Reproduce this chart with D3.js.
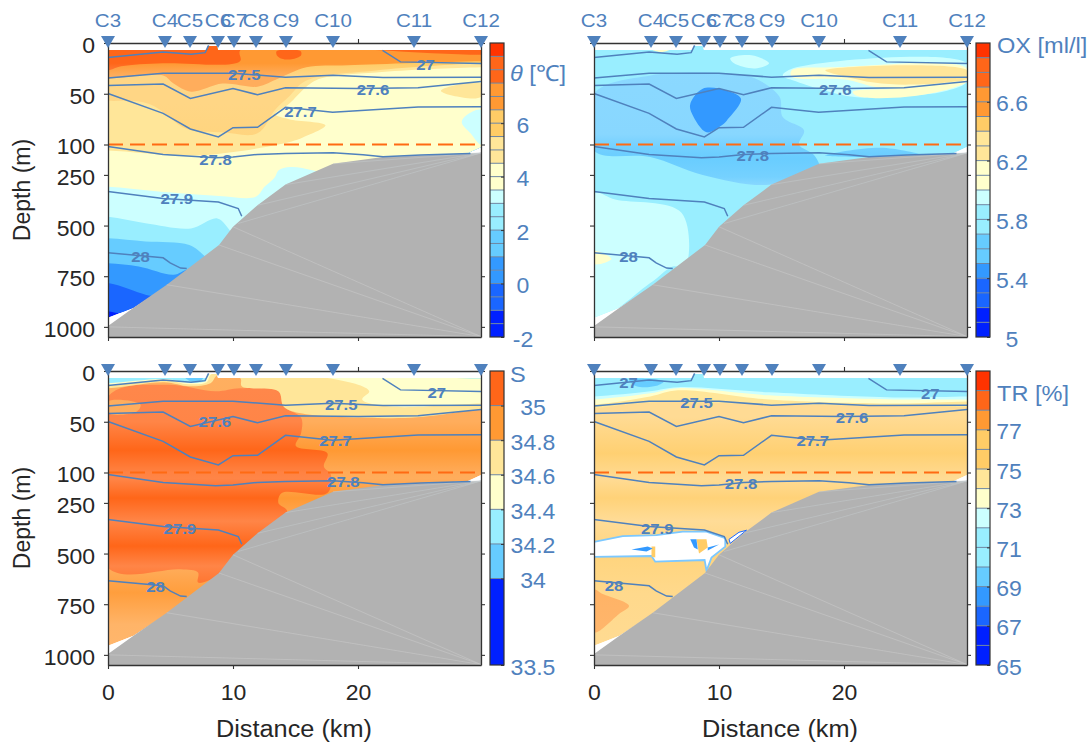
<!DOCTYPE html>
<html>
<head>
<meta charset="utf-8">
<script src="https://d3js.org/d3.v7.min.js"></script>
<style>
  html, body { margin: 0; background: #fff; }
  svg { display: block; font-family: "Liberation Sans", Arial, sans-serif; }
  svg text { font-family: "Liberation Sans", Arial, sans-serif; }
</style>
</head>
<body>
<div id="chart"></div>
<script>
// stations along the section
var stationNames = ['C3','C4','C5','C6','C7','C8','C9','C10','C11','C12'];
var stationKm = [0,4.56,6.56,8.8,10.08,11.84,14.24,18,24.48,29.84];

var depthTicks = [0,50,100,250,500,750,1000];
var distTicks = [0,10,20];

var seaEdge = [[0,7],[7.9,7],[8,3],[8.7,3],[8.8,7],[29.84,7],[29.84,112],[28.8,142],[22,170],[18,205],[14.2,310],[11.96,410],[10,520],[8.88,610],[4.7,800],[2.04,906],[0,955]];
var bathy = [[0,996],[2.04,906],[4.7,792],[8.88,596],[10,506],[11.96,400],[14.2,298],[18,195],[22,162],[29.84,142]];
// triangulation seams on the seabed
var seamsUp = [[10.4,490],[11.96,400],[14.2,298],[18,195],[22,162]];
var seamsDown = [[0,1000],[4.7,792],[8.88,596],[10,506]];

// density contours
var iso27a = [[0,14.4],[4.41,8.8],[6.65,11.1],[7.77,9.5],[8.05,2.3]];
var iso27b = [[21.96,7.2],[23.4,18.6],[29.84,20.3]];
var iso275 = [[0,34.6],[4.41,29.7],[10,29.7],[14.2,33.7],[18,31.7],[22,34],[29.84,33.7]];
var iso276 = [[0,41.8],[4.41,40.5],[6.59,54.6],[10,44.8],[11.96,51],[14.2,44.1],[20.03,44.8],[24.8,44.1],[29.84,37.9]];
var iso277 = [[0,49.7],[4.41,69.3],[6.59,84.7],[8.83,92.5],[10,83.4],[11.96,83],[14.2,63.4],[17.97,68.3],[24.81,63],[29.84,62.8]];
var iso278 = [[0,110],[4.41,149],[8.6,165],[10,162],[11.96,149],[14.2,144],[18,141],[20.4,151],[22,160],[25,152],[29,145]];
var iso279 = [[0,332],[4.41,367],[8.83,384],[10.42,416],[10.7,454]];
var iso28 = [[0,634],[4.41,659],[4.97,684],[5.81,710],[6.3,712]];
var isoLines = [iso27a,iso27b,iso275,iso276,iso277,iso278,iso279,iso28];

// colour bar edges
var thetaEdges = [-1,0,1,2,3,3.5,4.5,5.5,6.5,7.5,8.5];
var oxEdges = [5.2,5.4,5.5,5.7,5.9,6,6.2,6.4,6.5,6.7,6.9];
var salEdges = [34,34.2,34.4,34.6,34.8,35];
var trEdges = [67,68,69,70,72,73,74,75,77,78,79];
var palette = ['#0020ff','#1a66ff','#3399ff','#66ccff','#99eeff','#ccffff','#ffffcc','#ffe699','#ffcc66','#ff9933','#ff6619','#ff3300'];
var salPalette = ['#0020ff','#66ccff','#99eeff','#ffffcc','#ffe699','#ff9933','#ff6619'];

var thetaSteps = [-2,-1.5,-1,-0.5,0,0.5,1,1.5,2,2.5,3,3.5,4,4.5,5,5.5,6,6.5,7,7.5,8,8.5,9];
var oxSteps = [5,5.1,5.2,5.3,5.4,5.5,5.6,5.7,5.8,5.9,6,6.1,6.2,6.3,6.4,6.5,6.6,6.7,6.8,6.9,7];
var salSteps = [33.5,34,34.2,34.4,34.6,34.8,35,35.2];
var trSteps = [65,66,67,68,69,70,71,72,73,74,75,76,77,78,79,80];

var thetaTicks = [-2,0,2,4,6];
var oxTicks = [5,5.4,5.8,6.2,6.6];
var salTicks = [33.5,34,34.2,34.4,34.6,34.8,35];
var trTicks = [65,67,69,71,73,75,77];

// filled areas: value, outline, 1 = outline runs up to the surface
var thetaAreas = [
  [-1.5, seaEdge],
  [-0.5, [[0,923],[0.8,931],[2.46,915],[6,915]], 1],
  [0.5, [[0,784],[3,841],[3.86,850],[6,860]], 1],
  [1.5, [[0,686],[2.46,702],[5.25,743],[6.37,718],[7,740]], 1],
  [2.5, [[0,563],[3,579],[6.5,596],[7.77,653],[8.5,700]], 1],
  [3.2, [[0,457],[3,489],[6.65,514],[8.75,465],[9.86,530],[10.5,560]], 1],
  [4, [[0,309],[3.86,331],[8.88,354],[11.82,358],[12.52,309],[13.36,260],[13.63,228],[14.6,211],[16.43,228],[20,300]], 1],
  [5, [[0,129],[6.93,154],[13.63,100],[15.59,93],[17.4,81],[14.47,75],[13.36,70],[14.47,60],[15.87,43],[17,35],[21.46,29],[29.84,24]], 1],
  [6, [[0,57],[3.3,60],[6.37,85],[9.16,88],[11.96,89],[13.36,66],[14.47,53],[15.87,37],[21.46,27],[29.84,20]], 1],
  [7, [[0,35],[4.41,32],[5.25,40],[6.65,48],[9.16,40],[11.96,43],[13.63,35],[15.87,24],[19.22,22],[29.84,18]], 1],
  [8, [[0,27],[1.06,23],[4.41,20],[10.56,18],[10.6,7]], 1],
  [3.2, [[29.84,66],[28.7,71],[28.3,78],[29,89],[29.84,100]]],
  [5, [[26.63,47],[27.6,42],[29.84,40],[29.84,53],[27.6,52]]],
  [8, [[13.5,8],[15.4,8],[15.45,12],[14.7,16],[13.9,15.5],[13.5,12]]]
];
var oxAreas = [
  [5.8, seaEdge],
  [5.95, [[0,342],[1.7,372],[7,437],[7.3,702],[6.3,702],[4.5,784],[0,956]]],
  [5.6, [[0,50],[4.5,32],[10.65,30],[12.9,35],[14.84,53],[15.1,73],[16.8,86],[16.4,100],[17.6,152],[18,220],[14,299],[8.7,250],[4.5,162],[0,129]]],
  [5.6, [[18.5,154],[22.9,116],[26.3,154]]],
  [5.45, [[7.7,60],[8.7,45],[10.65,47],[11.76,55],[10.65,76],[10.1,82],[9,88],[7.85,70]]],
  [5.95, [[15.1,32],[16.2,24],[29.84,20],[29.84,38],[28.25,47],[24,53],[20.7,53],[18.5,47],[16.2,38]]],
  [5.95, [[10.9,15],[12.6,12],[14,20],[12.9,25],[11.2,20]]],
  [6.1, [[15.8,27],[19.3,24],[29.84,25],[29.84,38],[25.45,45],[22.4,43],[20.1,36],[15.8,33]]],
  [6.3, [[18.5,27],[29.84,27],[29.84,35],[25.45,41],[22.4,39],[20.1,33]]],
  [6.1, [[20.7,48],[24,45],[29.84,38],[28.25,46],[24,54],[21,52]]],
  [6.1, [[0,625],[1.4,665],[0,690]]],
  [6.1, [[4.7,7],[6,7],[5.4,9]]]
];
var salAreas = [
  [34.9, seaEdge],
  [35.1, [[0,25],[4.7,13.5],[8.6,20],[10.56,17],[13.63,20],[14.05,35],[15.45,46],[15.45,61],[15.03,74],[17.55,81],[17.27,94],[17.83,111],[17.55,201],[13.9,201],[13.63,250],[14.33,291],[12,480],[8.88,610],[7.2,643],[7.2,594],[5.8,578],[0,570]]],
  [34.9, [[0,30],[2.6,33],[2.3,40],[0,41.5]]],
  [34.7, [[10.56,7],[10.7,15],[13.63,20],[14.05,35],[15.3,41.5],[24.25,46],[29.84,38]], 1],
  [34.5, [[17.55,7],[20.9,20],[20.34,28],[22.6,35],[29.84,32]], 1],
  [34.7, [[0,17],[4.5,11],[6.5,15],[8.2,12],[8.9,3]], 1],
  [34.5, [[0,14.5],[4.5,9],[6.5,13],[7.9,11],[8.3,3]], 1],
  [34.3, [[0,12],[4.5,8],[6.65,11.5],[7.8,9.5],[8,3]], 1],
  [34.1, [[6.2,7],[7.6,7],[7.4,9.5],[6.7,10.5]]]
];
var trAreas = [
  [75.5, seaEdge],
  [74.5, [[0,36.5],[4.5,31],[14,33],[29.84,35.5]], 1],
  [73.5, [[0,33],[4.5,25],[6.7,19],[14,28],[24,32],[29.84,30]], 1],
  [72.5, [[0,28],[4.5,22],[6.7,17],[14,24],[24,28],[29.84,28]], 1],
  [71, [[0,25],[4.5,20],[6.7,16],[14,21],[24,26],[29.84,25]], 1],
  [69.5, [[2.8,8.5],[5.6,10],[5,14.5],[3.4,15]]],
  [77.5, [[0,679],[0.7,700],[2.8,758],[2,798],[0,889]]]
];
// the patch of missing values in the transmission panel
var trHole = [[0,442],[2.3,414],[5,409],[7.1,392],[9,392],[10.5,424],[10.5,466],[9.4,520],[9,585],[8.85,532],[4.9,540],[4.6,512],[0,516]];
var trHoleBits = [[[10.8,430],[11.6,395],[12.2,385],[11.3,430],[10.9,450]]];
var trHoleBlue = [[[3,480],[4.3,465],[4.7,475],[4.2,490]],[[7.7,430],[8.2,430],[8.3,480],[8,470]],[[9.1,470],[10,455],[9.1,485]]];
var trHoleYellow = [[[4.6,465],[4.9,465],[4.9,520],[4.6,515]],[[8.2,430],[9,430],[9.1,470],[8.4,500]]];

// contour labels
var thetaLabels = [['27',25.4,21],['27.5',10.9,31],['27.6',21.2,46],['27.7',15.4,68],['27.8',8.6,172],['27.9',5.5,369],['28',2.6,654]];
var oxLabels = [['27.6',19.3,46],['27.8',12.7,156],['28',2.77,654]];
var salLabels = [['27',26.3,21],['27.5',18.66,33],['27.6',8.55,50],['27.7',18.2,69],['27.8',18.83,147],['27.9',5.75,375],['28',3.8,665]];
var trLabels = [['27',2.77,11],['27',26.9,22],['27.5',8.2,31],['27.6',20.65,46],['27.7',17.5,69],['27.8',11.76,157],['27.9',5.06,375],['28',1.6,657]];

// how pale the fills get with depth (banding in the original)
var thetaTint = [[0,0],[20,0],[32,0.2],[60,0.2],[100,0.15],[1050,0.15]];
var oxTint = [[0,0.25],[90,0.22],[115,0.08],[170,0.02],[260,0.1],[310,0.25],[1050,0.25]];
var salTint = [[0,0.22],[50,0.2],[78,0],[100,0.18],[130,0.2],[226,0],[340,0.2],[463,0],[561,0.2],[693,0.05],[850,0.26],[1050,0.3]];
var trTint = [[0,0.3],[45,0.3],[81,0.08],[130,0.3],[226,0.12],[340,0.32],[500,0.15],[700,0.25],[1050,0.3]];

var blue = '#4f81bd', dark = '#333333', textDark = '#262626';

var panels = [
  {id:'theta', x0:108, y0:43, areas:thetaAreas, labels:thetaLabels, tint:thetaTint, tintFrom:5.5, tintTo:8,
   barEdges:thetaEdges, colors:palette, barSteps:thetaSteps, ticks:thetaTicks, tickX:523,
   left:true, bottom:false, stationText:true, title:[['\u03b8',true],[' [\u2103]',false]], titleX:510, titleY:73},
  {id:'ox', x0:594, y0:43, areas:oxAreas, labels:oxLabels, tint:oxTint, tintFrom:5.5, tintTo:5.7,
   barEdges:oxEdges, colors:palette, barSteps:oxSteps, ticks:oxTicks, tickX:1012,
   left:false, bottom:false, stationText:true, title:[['OX [ml/l]',false]], titleX:997, titleY:45},
  {id:'sal', x0:108, y0:371, areas:salAreas, labels:salLabels, tint:salTint, tintFrom:34.8, tintTo:35.2,
   barEdges:salEdges, colors:salPalette, barSteps:salSteps, ticks:salTicks, tickX:533,
   left:true, bottom:true, stationText:false, title:[['S',false]], titleX:510, titleY:374},
  {id:'tr', x0:594, y0:371, areas:trAreas, labels:trLabels, tint:trTint, tintFrom:75, tintTo:78,
   barEdges:trEdges, colors:palette, barSteps:trSteps, ticks:trTicks, tickX:1009,
   left:false, bottom:true, stationText:false, title:[['TR [%]',false]], titleX:997, titleY:393}
];

var svg = d3.select('#chart').append('svg').attr('width',1092).attr('height',742);
var defs = svg.append('defs');

// text in the original is slightly wider than tall
function stretch(sel, k) {
  sel.each(function() {
    var len = this.getComputedTextLength();
    if (len > 0) d3.select(this).attr('textLength', len*k).attr('lengthAdjust','spacingAndGlyphs');
  });
}

function drawPanel(p) {
  var w = 373, h = 294;
  var xScale = d3.scaleLinear().domain([0,29.84]).range([p.x0,p.x0+w]);
  var yScale = d3.scaleLinear().domain([0,100,1050]).range([p.y0,p.y0+101.5,p.y0+h]);
  var colour = d3.scaleThreshold().domain(p.barEdges).range(p.colors);
  var g = svg.append('g').attr('class','panel '+p.id);

  var line = d3.line().x(d=>xScale(d[0])).y(d=>yScale(d[1]));
  var smooth = d3.line().x(d=>xScale(d[0])).y(d=>yScale(d[1])).curve(d3.curveCatmullRomClosed.alpha(0.5));
  var smoothOpen = d3.line().x(d=>xScale(d[0])).y(d=>yScale(d[1])).curve(d3.curveCatmullRom.alpha(0.5));

  defs.append('clipPath').attr('id','sea-'+p.id).append('path').attr('d',line(seaEdge)+'Z');
  var sea = g.append('g').attr('clip-path','url(#sea-'+p.id+')');

  // fills in the tinted range use a vertical gradient so the bands show
  function fillFor(v) {
    var c = colour(v);
    if (v < p.tintFrom || v > p.tintTo) return c;
    var id = 'grad-'+p.id+'-'+c.slice(1);
    if (defs.select('#'+id).empty()) {
      var grad = defs.append('linearGradient').attr('id',id).attr('gradientUnits','userSpaceOnUse')
        .attr('x1',0).attr('x2',0).attr('y1',yScale(0)).attr('y2',yScale(1050));
      p.tint.forEach(function(t) {
        grad.append('stop')
          .attr('offset',(yScale(t[0])-yScale(0))/h)
          .attr('stop-color',d3.interpolateRgb(c,'#ffffff')(t[1]));
      });
    }
    return 'url(#'+id+')';
  }

  sea.selectAll('path.area').data(p.areas).enter().append('path')
    .attr('class','area')
    .attr('d',function(d) {
      if (d[1] === seaEdge) return line(seaEdge)+'Z';
      if (d[2]) {
        var pts = d[1], last = pts[pts.length-1];
        return smoothOpen([[-3,pts[0][1]]].concat(pts).concat([[33,last[1]],[33,-5],[-3,-5]]))+'Z';
      }
      return smooth(d[1]);
    })
    .attr('fill',d=>fillFor(d[0]));

  if (p.id === 'tr') {
    var hole = sea.append('g');
    hole.append('path').attr('d',line(trHole)+'Z').attr('fill','#fff').attr('stroke','#7cc8ff').attr('stroke-width',1.8);
    hole.selectAll('path.bit').data(trHoleBits).enter().append('path').attr('class','bit')
      .attr('d',d=>line(d)+'Z').attr('fill','#fff').attr('stroke','#1a66ff').attr('stroke-width',1);
    hole.selectAll('path.yel').data(trHoleYellow).enter().append('path').attr('class','yel')
      .attr('d',d=>line(d)+'Z').attr('fill','#ffcc66');
    hole.selectAll('path.blu').data(trHoleBlue).enter().append('path').attr('class','blu')
      .attr('d',d=>line(d)+'Z').attr('fill','#3399ff');
  }

  // seabed, with the faint triangulation seams running to the corners
  var floor = bathy.concat([[29.84,1050],[0,1050]]);
  g.append('path').attr('d',line(floor)+'Z').attr('fill','#b2b2b2');
  g.selectAll('line.seamUp').data(seamsUp).enter().append('line').attr('class','seamUp')
    .attr('x1',d=>xScale(d[0])).attr('y1',d=>yScale(d[1]))
    .attr('x2',xScale(29.84)).attr('y2',yScale(142))
    .attr('stroke','#c4cacc').attr('stroke-width',0.5);
  g.selectAll('line.seamDown').data(seamsDown).enter().append('line').attr('class','seamDown')
    .attr('x1',d=>xScale(d[0])).attr('y1',d=>yScale(d[1]))
    .attr('x2',xScale(29.84)).attr('y2',yScale(1048))
    .attr('stroke','#cccccc').attr('stroke-width',0.5);

  // density contours
  g.selectAll('path.iso').data(isoLines).enter().append('path').attr('class','iso')
    .attr('d',line).attr('fill','none').attr('stroke',blue).attr('stroke-width',1.5);

  g.append('line')
    .attr('x1',xScale(0)).attr('x2',xScale(29.84))
    .attr('y1',yScale(100)).attr('y2',yScale(100))
    .attr('stroke','#ff6a13').attr('stroke-width',1.8).attr('stroke-dasharray','15 7');

  g.selectAll('text.lab').data(p.labels).enter().append('text').attr('class','lab')
    .attr('x',d=>xScale(d[1])).attr('y',d=>yScale(d[2]))
    .attr('dy','0.35em').attr('text-anchor','middle')
    .attr('font-size',15.5).attr('font-weight','bold').attr('fill',blue)
    .text(d=>d[0])
    .call(stretch,1.08);

  // frame and ticks
  var axL = d3.axisLeft(yScale).tickValues(depthTicks).tickSize(4).tickSizeOuter(0).tickPadding(9).tickFormat(d3.format('d'));
  if (!p.left) axL.tickFormat('');
  var axR = d3.axisRight(yScale).tickValues(depthTicks).tickSize(4).tickSizeOuter(0).tickFormat('');
  var axT = d3.axisTop(xScale).tickValues(distTicks).tickSize(4).tickSizeOuter(0).tickFormat('');
  var axB = d3.axisBottom(xScale).tickValues(distTicks).tickSize(4).tickSizeOuter(0).tickPadding(16);
  if (!p.bottom) axB.tickFormat('');

  var gL = g.append('g').attr('transform','translate('+xScale(0)+',0)').call(axL);
  var gR = g.append('g').attr('transform','translate('+xScale(29.84)+',0)').call(axR);
  var gT = g.append('g').attr('transform','translate(0,'+yScale(0)+')').call(axT);
  var gB = g.append('g').attr('transform','translate(0,'+yScale(1050)+')').call(axB);
  [gL,gR,gT,gB].forEach(function(a) {
    a.select('.domain').attr('stroke',dark).attr('stroke-width',1.3);
    a.selectAll('line').attr('stroke',dark).attr('stroke-width',1.1);
    a.selectAll('text').attr('font-size',21.5).attr('fill',textDark).call(stretch,1.07);
  });
  gL.selectAll('text').attr('dy','0.44em');

  if (p.left) {
    g.append('text').attr('transform','translate(22,'+(p.y0+147)+') rotate(-90)')
      .attr('text-anchor','middle').attr('dy','0.35em')
      .attr('font-size',23).attr('fill',textDark).text('Depth (m)');
  }
  if (p.bottom) {
    g.append('text').attr('x',p.x0+186).attr('y',737)
      .attr('text-anchor','middle').attr('font-size',23).attr('fill',textDark)
      .text('Distance (km)').call(stretch,1.1);
  }

  // stations
  g.selectAll('path.stn').data(stationKm).enter().append('path').attr('class','stn')
    .attr('d',d3.symbol().type(d3.symbolTriangle).size(85))
    .attr('transform',d=>'translate('+xScale(d)+','+(p.y0-3)+') rotate(180)')
    .attr('fill',blue);
  if (p.stationText) {
    g.selectAll('text.stnName').data(stationNames).enter().append('text').attr('class','stnName')
      .attr('x',(d,i)=>xScale(stationKm[i])).attr('y',27)
      .attr('text-anchor','middle').attr('font-size',19).attr('fill',blue)
      .text(d=>d).call(stretch,1.08);
  }

  // colour bar
  var barX = p.x0+w+9, barW = 14;
  var barMin = p.barSteps[0], barMax = p.barSteps[p.barSteps.length-1];
  var barY = d3.scaleLinear().domain([barMin,barMax]).range([p.y0+h,p.y0]);
  var bar = g.append('g');
  bar.selectAll('rect').data(d3.pairs(p.barSteps)).enter().append('rect')
    .attr('x',barX).attr('width',barW)
    .attr('y',d=>barY(d[1]))
    .attr('height',d=>barY(d[0])-barY(d[1]))
    .attr('fill',d=>colour((d[0]+d[1])/2));
  bar.selectAll('line.sep').data(p.barSteps.slice(1,-1)).enter().append('line').attr('class','sep')
    .attr('x1',barX).attr('x2',barX+barW)
    .attr('y1',d=>barY(d)).attr('y2',d=>barY(d))
    .attr('stroke','#6d86a3').attr('stroke-width',1);
  bar.append('rect').attr('x',barX).attr('y',p.y0).attr('width',barW).attr('height',h)
    .attr('fill','none').attr('stroke',dark).attr('stroke-width',1.2);

  var barAxis = d3.axisRight(barY).tickValues(p.ticks).tickSize(-3).tickSizeOuter(0)
    .tickFormat(d=>String(d));
  var gBar = bar.append('g').attr('transform','translate('+(barX+barW)+',0)').call(barAxis);
  gBar.select('.domain').remove();
  gBar.selectAll('line').attr('stroke',dark);
  gBar.selectAll('text')
    .attr('x',p.tickX-barX-barW).attr('dy','0.42em').attr('text-anchor','middle')
    .attr('font-size',21.5).attr('fill',blue)
    .call(stretch,1.07);

  var title = g.append('text').attr('x',p.titleX).attr('y',p.titleY).attr('dy','0.36em')
    .attr('font-size',22).attr('fill',blue);
  p.title.forEach(function(t) {
    title.append('tspan').attr('font-style',t[1]?'italic':'normal').text(t[0]);
  });
  title.call(stretch,1.07);
}

panels.forEach(drawPanel);
</script>
</body>
</html>
